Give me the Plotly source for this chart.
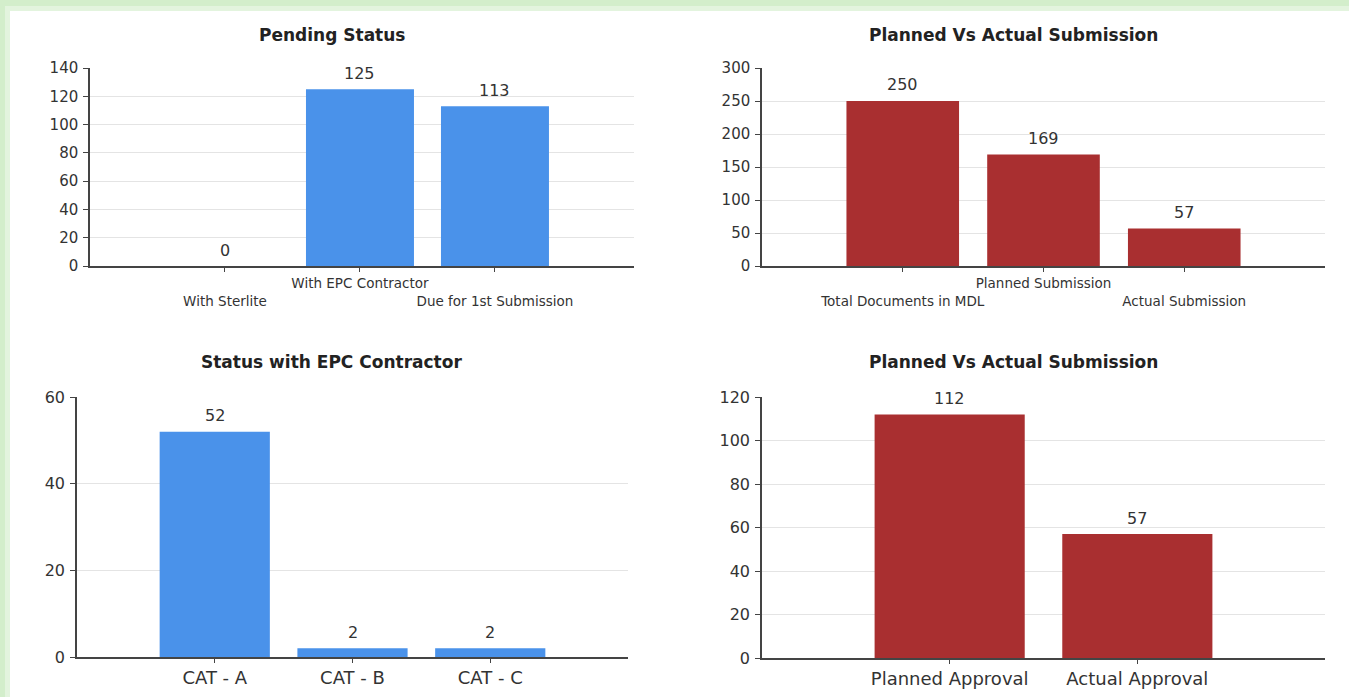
import plotly.graph_objects as go

W, H = 1349, 697

# ---- data ----
pending_cats = ["With Sterlite", "With EPC Contractor", "Due for 1st Submission"]
pending_vals = [0, 125, 113]

submission_cats = ["Total Documents in MDL", "Planned Submission", "Actual Submission"]
submission_vals = [250, 169, 57]

epc_cats = ["CAT - A", "CAT - B", "CAT - C"]
epc_vals = [52, 2, 2]

approval_cats = ["Planned Approval", "Actual Approval"]
approval_vals = [112, 57]

panel_titles = ["Pending Status", "Planned Vs Actual Submission",
                "Status with EPC Contractor", "Planned Vs Actual Submission"]

BLUE = "#4A92EA"
RED = "#A92F30"
TXT = "#333333"
AX = "#444444"
GRID = "#E4E4E4"
FONT = "DejaVu Sans, Verdana, sans-serif"


def xd(a, b):
    return [a / W, b / W]


def yd(top, bottom):
    return [1 - bottom / H, 1 - top / H]


def stagger(labels):
    return [("" if i % 2 == 1 else "<br>") + s for i, s in enumerate(labels)]


fig = go.Figure()

panels = [
    (pending_cats, pending_vals, BLUE, "x", "y"),
    (submission_cats, submission_vals, RED, "x2", "y2"),
    (epc_cats, epc_vals, BLUE, "x3", "y3"),
    (approval_cats, approval_vals, RED, "x4", "y4"),
]

annotations = []
for cats, vals, col, xa, ya in panels:
    fig.add_trace(go.Bar(x=cats, y=vals, marker=dict(color=col, line=dict(width=0)),
                         width=0.8, xaxis=xa, yaxis=ya, showlegend=False,
                         hoverinfo="x+y"))
    for c, v in zip(cats, vals):
        annotations.append(dict(x=c, y=v, xref=xa, yref=ya, text=str(v), showarrow=False,
                                yshift=16, yanchor="middle",
                                font=dict(family=FONT, size=16, color=TXT)))

# titles
for (tx, ty), t in zip([(332, 35), (1013, 35), (331, 362), (1013, 362)], panel_titles):
    annotations.append(dict(x=tx / W, y=1 - ty / H, xref="paper", yref="paper", text="<b>" + t + "</b>",
                            showarrow=False, xanchor="center", yanchor="middle",
                            font=dict(family=FONT, size=17, color="#222222")))


def yaxis_cfg(dom, rng, dtick, anchor, size):
    return dict(domain=dom, range=rng, dtick=dtick, anchor=anchor, showline=True, linecolor=AX,
                linewidth=1.5, ticks="outside", ticklen=5, tickcolor=AX, showgrid=True, gridcolor=GRID,
                gridwidth=1, zeroline=False, automargin=False, ticklabelstandoff=2,
                tickfont=dict(family=FONT, size=size, color=TXT))


def xaxis_cfg(dom, rng, anchor, cats, ticktext, size):
    return dict(domain=dom, range=rng, anchor=anchor, type="category", showline=True, linecolor=AX,
                linewidth=1.5, ticks="outside", ticklen=4, tickcolor=AX, showgrid=False, zeroline=False,
                tickmode="array", tickvals=cats, ticktext=ticktext, automargin=False, tickangle=0,
                tickfont=dict(family=FONT, size=size, color=TXT))


fig.update_layout(
    width=W, height=H,
    margin=dict(l=0, r=0, t=0, b=0),
    paper_bgcolor="#D3EECB",
    plot_bgcolor="rgba(0,0,0,0)",
    bargap=0.2,
    xaxis=xaxis_cfg(xd(90, 634), [-1, 3.03], "y", pending_cats, stagger(pending_cats), 13.5),
    yaxis=yaxis_cfg(yd(68, 266), [0, 140], 20, "x", 15),
    xaxis2=xaxis_cfg(xd(762, 1325), [-1, 3], "y2", submission_cats, stagger(submission_cats), 13.5),
    yaxis2=yaxis_cfg(yd(68, 266), [0, 300], 50, "x2", 15),
    xaxis3=xaxis_cfg(xd(77, 628), [-1, 3], "y3", epc_cats, epc_cats, 18),
    yaxis3=yaxis_cfg(yd(397, 657), [0, 60], 20, "x3", 16),
    xaxis4=xaxis_cfg(xd(762, 1325), [-1, 2], "y4", approval_cats, approval_cats, 18),
    yaxis4=yaxis_cfg(yd(397, 658), [0, 120], 20, "x4", 16),
    annotations=annotations,
    shapes=[
        dict(type="rect", xref="paper", yref="paper", x0=5 / W, x1=1, y0=0, y1=1 - 6 / H,
             fillcolor="#E3F4DE", line=dict(width=0), layer="below"),
        dict(type="rect", xref="paper", yref="paper", x0=10 / W, x1=1, y0=0, y1=1 - 11 / H,
             fillcolor="#FFFFFF", line=dict(width=0), layer="below"),
    ],
)

fig.write_html("out.html")
